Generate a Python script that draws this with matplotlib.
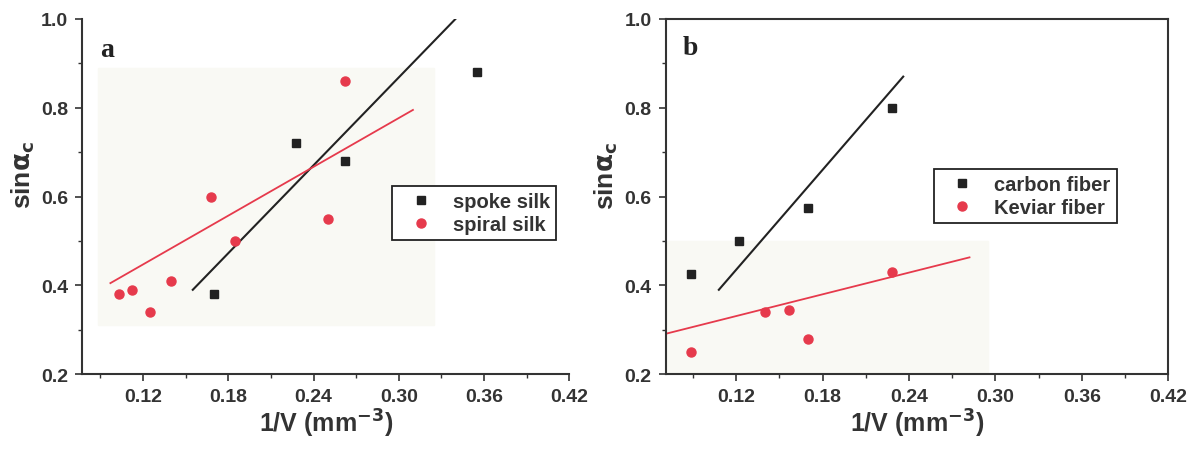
import matplotlib.pyplot as plt
from matplotlib.ticker import MultipleLocator
from matplotlib.patches import Rectangle

plt.rcParams['font.family'] = ['Liberation Sans', 'DejaVu Sans']

# panel a
spoke_x = [0.170, 0.228, 0.262, 0.355]
spoke_y = [0.38, 0.72, 0.68, 0.88]
spiral_x = [0.103, 0.112, 0.125, 0.140, 0.168, 0.185, 0.250, 0.262]
spiral_y = [0.38, 0.39, 0.34, 0.41, 0.60, 0.50, 0.55, 0.86]
spoke_fit_x = [0.155, 0.340]
spoke_fit_y = [0.39, 1.00]
spiral_fit_x = [0.097, 0.310]
spiral_fit_y = [0.405, 0.795]

# panel b
carbon_x = [0.089, 0.122, 0.170, 0.228]
carbon_y = [0.425, 0.50, 0.575, 0.80]
kevlar_x = [0.089, 0.140, 0.157, 0.170, 0.228]
kevlar_y = [0.25, 0.34, 0.345, 0.28, 0.43]
carbon_fit_x = [0.108, 0.236]
carbon_fit_y = [0.39, 0.87]
kevlar_fit_x = [0.070, 0.282]
kevlar_fit_y = [0.29, 0.463]

BLACK = '#222222'
RED = '#e63a4c'
GREY = '#333333'

fig = plt.figure(figsize=(11.97, 4.52), dpi=100)
ax1 = fig.add_axes([0.0685, 0.170, 0.407, 0.786])
ax2 = fig.add_axes([0.556, 0.170, 0.420, 0.786])


def style(ax, xmin, full_box):
    ax.set_xlim(xmin, 0.42)
    ax.set_ylim(0.2, 1.0)
    ax.xaxis.set_minor_locator(MultipleLocator(0.03))
    ax.yaxis.set_minor_locator(MultipleLocator(0.1))
    ax.set_xticks([0.12, 0.18, 0.24, 0.30, 0.36, 0.42])
    ax.set_xticklabels(['0.12', '0.18', '0.24', '0.30', '0.36', '0.42'])
    ax.set_yticks([0.2, 0.4, 0.6, 0.8, 1.0])
    ax.set_yticklabels(['0.2', '0.4', '0.6', '0.8', '1.0'])
    ax.tick_params(which='major', direction='out', length=5, width=1.2,
                   labelsize=14, pad=5, colors=GREY)
    ax.tick_params(which='minor', direction='out', length=3, width=1, colors=GREY)
    for lab in ax.get_xticklabels() + ax.get_yticklabels():
        lab.set_fontweight('bold')
    for s in ax.spines.values():
        s.set_linewidth(1.5)
        s.set_color(GREY)
    if not full_box:
        ax.spines['top'].set_visible(False)
        ax.spines['right'].set_visible(False)
    ax.set_xlabel('1/V (mm$^{\\mathbf{-3}}$)', fontsize=18, fontweight='bold',
                  color=GREY, labelpad=1)
    ax.set_ylabel('sin$\\mathbf{\\alpha}_{\\mathbf{c}}$', fontsize=19,
                  fontweight='bold', color=GREY)


style(ax1, 0.077, False)
style(ax2, 0.071, True)
ax1.yaxis.set_label_coords(-0.092, 0.565)
ax2.yaxis.set_label_coords(-0.09, 0.56)

# faint scan shading
ax1.add_patch(Rectangle((0.088, 0.31), 0.237, 0.58, color='#f9f9f4', zorder=0))
ax2.add_patch(Rectangle((0.072, 0.2), 0.223, 0.30, color='#f9f9f4', zorder=0))

leg_kw = dict(loc='upper left', frameon=True, fancybox=False, edgecolor=BLACK,
              framealpha=1, handlelength=2.2, handletextpad=0.5, borderpad=0.3,
              labelspacing=0.2, borderaxespad=0,
              prop={'weight': 'bold', 'size': 14.5})

ax1.plot(spoke_fit_x, spoke_fit_y, color=BLACK, lw=1.5)
ax1.plot(spiral_fit_x, spiral_fit_y, color=RED, lw=1.3)
ax1.plot(spoke_x, spoke_y, 's', color=BLACK, ms=5.5, label='spoke silk')
ax1.plot(spiral_x, spiral_y, 'o', color=RED, ms=6.5, label='spiral silk')
ax1.text(0.09, 0.93, 'a', fontsize=20, fontweight='bold', family='Liberation Serif',
         color=BLACK, va='center')
leg1 = ax1.legend(bbox_to_anchor=(0.637, 0.53), **leg_kw)
leg1.get_frame().set_linewidth(1.3)
for t in leg1.get_texts():
    t.set_color(GREY)

ax2.plot(carbon_fit_x, carbon_fit_y, color=BLACK, lw=1.5)
ax2.plot(kevlar_fit_x, kevlar_fit_y, color=RED, lw=1.3)
ax2.plot(carbon_x, carbon_y, 's', color=BLACK, ms=5.5, label='carbon fiber')
ax2.plot(kevlar_x, kevlar_y, 'o', color=RED, ms=6.5, label='Keviar fiber')
ax2.text(0.083, 0.935, 'b', fontsize=20, fontweight='bold', family='Liberation Serif',
         color=BLACK, va='center')
leg2 = ax2.legend(bbox_to_anchor=(0.534, 0.577), **leg_kw)
leg2.get_frame().set_linewidth(1.3)
for t in leg2.get_texts():
    t.set_color(GREY)

fig.savefig('out.png', dpi=100)
